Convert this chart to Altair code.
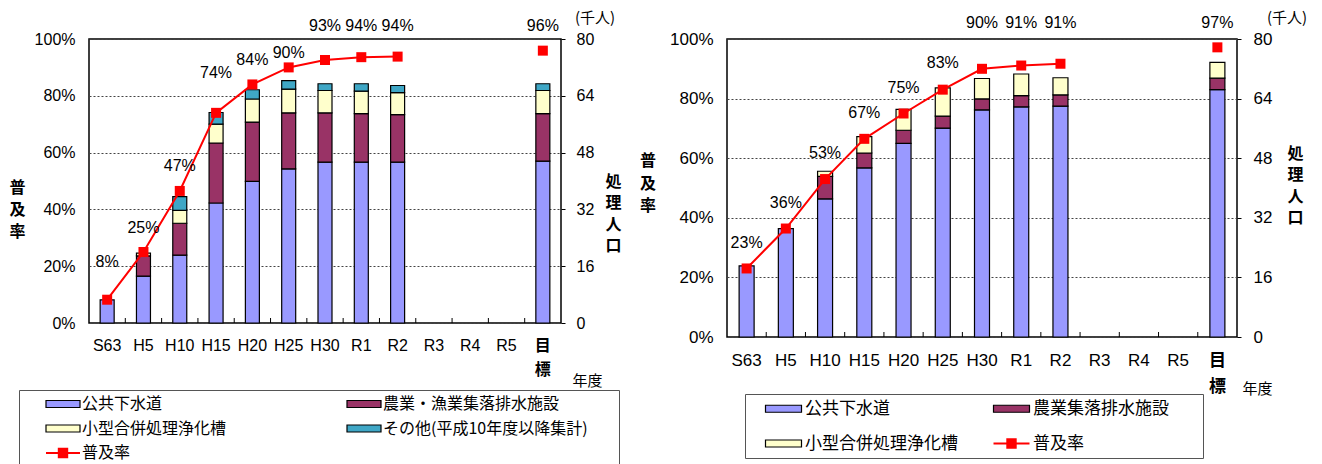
import altair as alt
import pandas as pd

cats = ["S63", "H5", "H10", "H15", "H20", "H25", "H30", "R1", "R2", "R3", "R4", "R5", "目標"]

# ---------- left panel (thousand persons) ----------
L_series = ["公共下水道", "農業・漁業集落排水施設", "小型合併処理浄化槽", "その他(平成10年度以降集計)"]
L_colors = ["#9999FF", "#993366", "#FFFFCC", "#3FA7C6"]
L_public = [6.5, 13.2, 19.1, 33.8, 39.9, 43.4, 45.3, 45.3, 45.3, None, None, None, 45.6]
L_agri = [0.0, 5.7, 9.0, 16.9, 16.7, 15.8, 13.9, 13.7, 13.4, None, None, None, 13.4]
L_small = [0.0, 0.8, 3.6, 5.3, 6.5, 6.7, 6.3, 6.3, 6.2, None, None, None, 6.5]
L_other = [0.0, 0.0, 3.9, 3.3, 2.6, 2.4, 1.9, 2.1, 2.0, None, None, None, 1.9]
L_rate = [8.2, 25.0, 46.5, 74.0, 84.0, 90.0, 92.6, 93.6, 93.8, None, None, None, 95.9]
L_labels = ["8%", "25%", "47%", "74%", "84%", "90%", "93%", "94%", "94%", None, None, None, "96%"]
L_label_at = [21.5, 33.5, 55.3, 88.0, 92.6, 95.0, 104.6, 104.6, 104.6, None, None, None, 104.6]

# ---------- right panel (thousand persons) ----------
R_series = ["公共下水道", "農業集落排水施設", "小型合併処理浄化槽"]
R_colors = ["#9999FF", "#993366", "#FFFFCC"]
R_public = [19.1, 29.1, 37.1, 45.4, 52.0, 56.1, 61.0, 61.8, 62.0, None, None, None, 66.4]
R_agri = [0.0, 0.0, 6.0, 4.0, 3.5, 3.2, 2.9, 3.0, 3.0, None, None, None, 3.1]
R_small = [0.0, 0.0, 1.4, 4.4, 5.6, 7.6, 5.5, 5.8, 4.6, None, None, None, 4.2]
R_rate = [23.0, 36.4, 53.0, 66.5, 75.0, 83.0, 90.0, 91.1, 91.7, None, None, None, 97.2]
R_labels = ["23%", "36%", "53%", "67%", "75%", "83%", "90%", "91%", "91%", None, None, None, "97%"]
R_label_at = [31.5, 45.0, 61.6, 75.3, 83.7, 91.9, 105.4, 105.4, 105.4, None, None, None, 105.4]

RATE_NAME = "普及率"
LATIN = "'Liberation Sans', 'Noto Sans CJK JP', sans-serif"
CJK = "'Noto Sans CJK JP', sans-serif"


def sym_paths(w, h):
    # legend symbol paths in units of r = sqrt(symbolSize)/2 = 4 px
    a, b = w / 8.0, h / 8.0
    rect = f"M{-a},{-b}H{a}V{b}H{-a}Z"
    s, t = 1.3, 0.25
    rate = (f"M{-a},{-t}H{-s}V{-s}H{s}V{-t}H{a}V{t}H{s}V{s}H{-s}V{t}H{-a}Z")
    return rect, rate


def make_panel(p):
    W, H, fs = p["width"], p["height"], p["fs"]
    rows = []
    for k, (name, vals) in enumerate(zip(p["series"], p["values"])):
        for c, v in zip(cats, vals):
            if v:
                rows.append({"cat": c, "type": name, "value": v, "ord": k})
    bars_df = pd.DataFrame(rows)
    rate_df = pd.DataFrame([
        {"cat": c, "rate": r, "label": l, "at": a}
        for c, r, l, a in zip(cats, p["rate"], p["labels"], p["label_at"]) if r is not None
    ])
    tick_df = pd.DataFrame({"cat": cats[1:]})
    one = pd.DataFrame({"k": [0]})

    x_axis = alt.Axis(
        title="年度", titleX=p["nendo_x"], titleY=p["nendo_y"], titleAngle=0,
        titleAlign="center", titleBaseline="middle", titleFont=CJK, titleFontSize=15,
        titleFontWeight="normal", titleColor="black",
        labelExpr="datum.value == '目標' ? ['目', '標'] : datum.value",
        labelLineHeight=p["lab_lh"], labelPadding=p["xpad"], labelAngle=0, labelOverlap=False,
        labelFont=LATIN, labelFontSize=fs, labelColor="black",
        labelFontWeight={"condition": {"test": "datum.value == '目標'", "value": "bold"}, "value": "normal"},
        ticks=False, domain=False, grid=False,
    )
    xscale = alt.Scale(domain=cats, paddingInner=0, paddingOuter=0)
    x_enc = alt.X("cat:N", sort=cats, scale=xscale, axis=x_axis)
    x_tick = alt.X("cat:N", sort=cats, scale=xscale, axis=x_axis, bandPosition=0)

    ltitle = p["ltitle"]
    rate_axis_kw = dict(
        orient="left", values=[0, 20, 40, 60, 80, 100], labelExpr="datum.value + '%'",
        grid=True, gridDash=[2, 2], gridColor="#444444", gridWidth=1,
        ticks=False, domain=False, labelPadding=14, labelFont=LATIN, labelFontSize=fs,
        labelColor="black",
    )
    if ltitle:
        rate_axis_kw.update(
            title=ltitle, titleAngle=0, titleX=-72, titleY=140, titleAlign="center",
            titleBaseline="top", titleLineHeight=22, titleFont=CJK, titleFontSize=16,
            titleFontWeight="bold", titleColor="black",
        )
    else:
        rate_axis_kw.update(title=None)
    rate_axis = alt.Axis(**rate_axis_kw)
    rscale = alt.Scale(domain=[0, 100], nice=False)

    val_axis = alt.Axis(
        orient="right", values=[0, 16, 32, 48, 64, 80], grid=False, ticks=True, tickSize=4,
        tickColor="black", domain=False, labelPadding=p["rpad"], labelFont=LATIN,
        labelFontSize=fs, labelColor="black",
        title=["処", "理", "人", "口"], titleAngle=0, titleX=p["shori_x"], titleY=p["shori_y"],
        titleAlign="center", titleBaseline="top", titleLineHeight=21.5, titleFont=CJK,
        titleFontSize=16, titleFontWeight="bold", titleColor="black",
    )

    domain = p["series"] + [RATE_NAME]
    crange = p["colors"] + ["#FF0000"]
    rect_path, rate_path = sym_paths(p["sym_w"], 7)
    legend = alt.Legend(
        title="\u3000", titleOrient="right", titleFontSize=9, titlePadding=p["leg_tpad"],
        orient="none", legendX=p["leg_x"], legendY=p["leg_y"], columns=2,
        direction="horizontal",
        columnPadding=p["leg_colpad"], rowPadding=p["leg_rowpad"], padding=p["leg_pad"],
        strokeColor="#555555", fillColor="white",
        symbolType={"expr": f"datum.value == '{RATE_NAME}' ? '{rate_path}' : '{rect_path}'"},
        symbolSize=64, symbolStrokeWidth=1.2, symbolOffset=p["sym_off"],
        symbolStrokeColor={"expr": f"datum.value == '{RATE_NAME}' ? 'transparent' : 'black'"},
        symbolOpacity=1, labelFont=CJK, labelFontSize=p["leg_fs"], labelColor="black",
        labelOffset=p["lab_off"], labelLimit=500,
    )

    bars = alt.Chart(bars_df).mark_bar(size=p["bar"], stroke="black", strokeWidth=1.2).encode(
        x=x_enc,
        y=alt.Y("value:Q", stack="zero", scale=alt.Scale(domain=[0, 80], nice=False), axis=val_axis),
        color=alt.Color("type:N", scale=alt.Scale(domain=domain, range=crange), legend=legend),
        order=alt.Order("ord:Q"),
    )

    line = alt.Chart(rate_df).transform_filter("datum.cat != '目標'").mark_line(
        color="#FF0000", strokeWidth=2).encode(
        x=x_enc, y=alt.Y("rate:Q", scale=rscale, axis=rate_axis))
    pts = alt.Chart(rate_df).mark_square(size=100, color="#FF0000", opacity=1).encode(
        x=x_enc, y=alt.Y("rate:Q", scale=rscale, axis=rate_axis))
    labs = alt.Chart(rate_df).mark_text(font=LATIN, fontSize=16, color="black").encode(
        x=x_enc, y=alt.Y("at:Q", scale=rscale, axis=rate_axis), text="label:N")
    inner = alt.layer(line, pts, labs)

    ticks = alt.Chart(tick_df).mark_rule(color="black", strokeWidth=1).encode(
        x=x_tick, y=alt.value(H), y2=alt.value(H - 5))

    unit = alt.Chart(one).mark_text(text="(千人)", font=CJK, fontSize=15, color="black").encode(
        x=alt.value(p["unit_x"]), y=alt.value(p["unit_y"]))

    layers = [bars, inner, ticks, unit]
    if p.get("extra_title"):
        extra = alt.Chart(one).mark_text(
            text=["普", "及", "率"], font=CJK, fontSize=16, fontWeight="bold", color="black",
            baseline="top", align="center", lineHeight=22.5).encode(
            x=alt.value(p["extra_x"]), y=alt.value(p["extra_y"]))
        layers.append(extra)

    return alt.layer(*layers).resolve_scale(y="independent").properties(width=W, height=H)


left = make_panel(dict(
    width=472, height=284, fs=16, series=L_series, colors=L_colors,
    values=[L_public, L_agri, L_small, L_other], rate=L_rate, labels=L_labels,
    label_at=L_label_at, bar=14, nendo_x=498, nendo_y=57, lab_lh=24, xpad=14, rpad=11,
    ltitle=["普", "及", "率"], shori_x=52, shori_y=134, unit_x=506, unit_y=-21,
    extra_title=True, extra_x=559, extra_y=114,
    leg_x=-70, leg_y=351, leg_colpad=99, leg_rowpad=8.5, leg_pad=6, sym_w=34,
    sym_off=30, lab_off=11, leg_fs=16, leg_tpad=25,
))

right = make_panel(dict(
    width=510, height=298, fs=17, series=R_series, colors=R_colors,
    values=[R_public, R_agri, R_small], rate=R_rate, labels=R_labels,
    label_at=R_label_at, bar=15, nendo_x=530, nendo_y=51, lab_lh=26, xpad=15, rpad=12,
    ltitle=None, shori_x=58, shori_y=106, unit_x=560, unit_y=-21,
    extra_title=False,
    leg_x=18, leg_y=355, leg_colpad=21, leg_rowpad=17, leg_pad=6, sym_w=36,
    sym_off=24, lab_off=13, leg_fs=17, leg_tpad=28,
))

chart = alt.hconcat(left, right, spacing=11,
                    padding={"top": 2, "left": 0, "right": 0, "bottom": 0}).resolve_scale(
    color="independent").configure_view(stroke="black", strokeWidth=1.5)

chart.save("out.html", embed_options={"renderer": "svg", "actions": False})
